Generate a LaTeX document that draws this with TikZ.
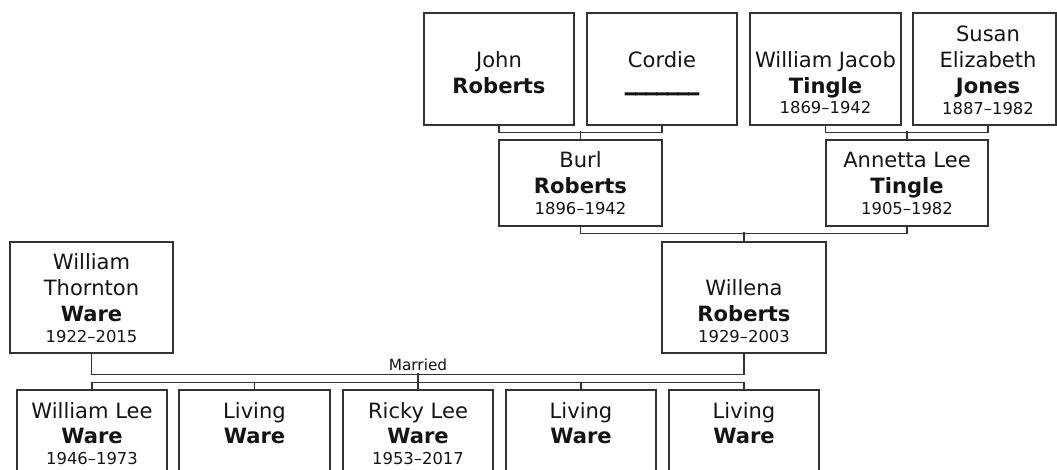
\documentclass[tikz,border=0pt]{standalone}
\usepackage{fontspec}
\setmainfont{DejaVu Sans}
\newfontface\thickbar[FakeBold=5]{DejaVu Sans Bold}
\tikzset{
  box/.style 2 args={draw=black!80, line width=1.1pt, rectangle, inner sep=0pt, fill=white,
    minimum width=#1*0.75pt, minimum height=#2*0.75pt},
  fn/.style={anchor=base, inner sep=0pt, font=\fontsize{15.8}{19}\selectfont, text=black!92},
  sn/.style={anchor=base, inner sep=0pt, font=\fontsize{15.8}{19}\selectfont\bfseries, text=black!92},
  dt/.style={anchor=base, inner sep=0pt, font=\fontsize{12.3}{15}\selectfont, text=black!92},
  link/.style={draw=black!80, line width=1.1pt},
  lbl/.style={anchor=base, inner sep=0pt, font=\fontsize{11.5}{14}\selectfont, text=black!92},
}
\begin{document}
\begin{tikzpicture}[x=0.75pt, y=-0.75pt]
\useasboundingbox (0,0) rectangle (1057,470);
\clip (0,0) rectangle (1057,470);

% ---------- boxes ----------
\node[box={150}{112}] (john) at (499,69) {};
\node[box={150}{112}] (cordie) at (662,69) {};
\node[box={151}{112}] (wjt) at (825.5,69) {};
\node[box={143}{112}] (susan) at (984.5,69) {};
\node[box={163}{86}] (burl) at (580.5,183) {};
\node[box={162}{86}] (annetta) at (907,183) {};
\node[box={163}{111}] (thornton) at (91.5,297.5) {};
\node[box={164}{111}] (willena) at (744,297.5) {};
\node[box={150}{110}] (c1) at (92,445) {};
\node[box={151}{110}] (c2) at (254.5,445) {};
\node[box={150}{110}] (c3) at (418,445) {};
\node[box={150}{110}] (c4) at (581,445) {};
\node[box={150}{110}] (c5) at (744,445) {};

% ---------- connectors ----------
\draw[link] (john.south) -- ++(0,7) -| (cordie.south);
\draw[link] (burl.north) -- ++(0,-8);
\draw[link] (wjt.south) -- ++(0,7) -| ([xshift=2.6pt]susan.south);
\draw[link] (annetta.north) -- ++(0,-8);
\draw[link] (burl.south) -- ++(0,7) -| (annetta.south);
\draw[link] (willena.north) -- ++(0,-9);
\draw[link] (thornton.south) -- ++(0,21) -| (willena.south);
\draw[link] (c3.north) -- ++(0,-16);
\draw[link] (c1.north) -- ++(0,-7) -| (c5.north);
\draw[link] (c2.north) -- ++(0,-7);
\draw[link] (c4.north) -- ++(0,-7);
\node[lbl] (married) at (418,370) {Married};

% ---------- texts ----------
\node[fn] (john1) at (499,68) {John};
\node[sn] (john2) at (499,94) {Roberts};

\node[fn] (cordie1) at (662,68) {Cordie};
\node[sn] (cordie2) at (662,90) {\thickbar\_\_\_\_\_\_\_};

\node[fn] (wjt1) at (825.5,68) {William Jacob};
\node[sn] (wjt2) at (825.5,94) {Tingle};
\node[dt] (wjt3) at (825.5,114) {1869–1942};

\node[fn] (susan1) at (988,42) {Susan};
\node[fn] (susan2) at (988,68) {Elizabeth};
\node[sn] (susan3) at (988,94) {Jones};
\node[dt] (susan4) at (988,115) {1887–1982};

\node[fn] (burl1) at (580.5,168) {Burl};
\node[sn] (burl2) at (580.5,194) {Roberts};
\node[dt] (burl3) at (580.5,215) {1896–1942};

\node[fn] (annetta1) at (907,168) {Annetta Lee};
\node[sn] (annetta2) at (907,194) {Tingle};
\node[dt] (annetta3) at (907,215) {1905–1982};

\node[fn] (thornton1) at (91.5,270) {William};
\node[fn] (thornton2) at (91.5,296) {Thornton};
\node[sn] (thornton3) at (91.5,322) {Ware};
\node[dt] (thornton4) at (91.5,343) {1922–2015};

\node[fn] (willena1) at (744,296) {Willena};
\node[sn] (willena2) at (744,322) {Roberts};
\node[dt] (willena3) at (744,343) {1929–2003};

\node[fn] (c1a) at (92,418) {William Lee};
\node[sn] (c1b) at (92,443) {Ware};
\node[dt] (c1c) at (92,464) {1946–1973};

\node[fn] (c2a) at (254.5,418) {Living};
\node[sn] (c2b) at (254.5,443) {Ware};

\node[fn] (c3a) at (418,418) {Ricky Lee};
\node[sn] (c3b) at (418,443) {Ware};
\node[dt] (c3c) at (418,464) {1953–2017};

\node[fn] (c4a) at (581,418) {Living};
\node[sn] (c4b) at (581,443) {Ware};

\node[fn] (c5a) at (744,418) {Living};
\node[sn] (c5b) at (744,443) {Ware};
\end{tikzpicture}
\end{document}
